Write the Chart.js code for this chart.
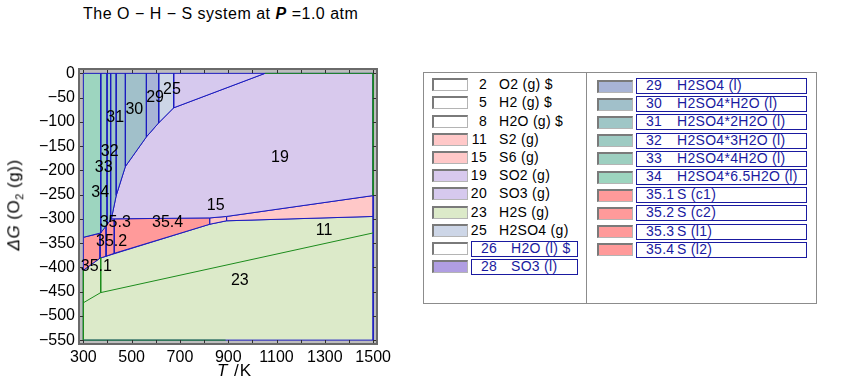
<!DOCTYPE html>
<html>
<head>
<meta charset="utf-8">
<script src="https://cdn.jsdelivr.net/npm/chart.js@4/dist/chart.umd.min.js"></script>
<style>
  body { margin: 0; width: 844px; height: 391px; background: #fff; position: relative; overflow: hidden;
         font-family: "Liberation Sans", Arial, sans-serif; color: #000; }
  #wrap { position: absolute; left: 0; top: 0; width: 400px; height: 391px; }
  #title { position: absolute; left: 83px; top: 5px; font-size: 16px; letter-spacing: 0.5px; white-space: nowrap; }
  #xtitle { position: absolute; left: 217px; top: 361px; font-size: 17px; letter-spacing: 1px; white-space: nowrap; }
  #ytitle { position: absolute; left: 15px; top: 205px; font-size: 17px; letter-spacing: 0.5px; white-space: nowrap;
            transform: translate(-50%, -50%) rotate(-90deg); }
  #legend { position: absolute; left: 423px; top: 72px; width: 392px; height: 230px; border: 1px solid #8c8c8c; background: #fff; }
  #legend .div { position: absolute; left: 162px; top: 0; width: 1px; height: 230px; background: #8c8c8c; }
  .sw { position: absolute; width: 33px; height: 10px; border-style: solid; border-width: 2px 1px 1px 2px;
        border-color: #7a7a7a #b4b4b4 #b4b4b4 #7a7a7a; }
  .num { position: absolute; font-size: 14px; line-height: 15px; text-align: right; width: 30px; letter-spacing: 0.3px; }
  .nm { position: absolute; font-size: 14px; line-height: 15px; white-space: nowrap; letter-spacing: 0.3px; }
  .box { position: absolute; height: 14px; border: 1px solid #1a1aa0; color: #1a1aa0; }
  .box span { position: absolute; top: -1px; font-size: 14px; line-height: 15px; white-space: nowrap; letter-spacing: 0.3px; }
</style>
</head>
<body>
<div id="title">The O − H − S system at <b><i>P</i></b> =1.0 atm</div>
<div id="wrap"><canvas id="chart"></canvas></div>
<div id="xtitle"><i>T</i> /K</div>
<div id="ytitle"><i>ΔG</i> (O<sub style="font-size:11px">2</sub> (g))</div>
<div id="legend"><div class="div"></div></div>
<script>
// axes
const T_TICKS = [300, 400, 500, 600, 700, 800, 900, 1000, 1100, 1200, 1300, 1400, 1500];
const T_LABELED = [300, 500, 700, 900, 1100, 1300, 1500];
const G_TICKS = [0, -50, -100, -150, -200, -250, -300, -350, -400, -450, -500, -550];

// predominance areas, vertices as [T (K), dG (kJ)]
const area34 = [[300, 0], [372, 0], [372, -329], [300, -338]];
const area33 = [[372, 0], [398, 0], [398, -312], [372, -329]];
const area32 = [[398, 0], [413, 0], [413, -302], [398, -312]];
const area31 = [[413, 0], [436, 0], [436, -252], [416, -300], [413, -302]];
const area30 = [[436, 0], [474, 0], [474, -192], [436, -252]];
const area30b = [[474, 0], [561, 0], [561, -131], [474, -192]];
const area29 = [[561, 0], [612, 0], [612, -102], [561, -131]];
const area25 = [[612, 0], [674, 0], [674, -71], [612, -102]];
const area20 = [[674, 0], [1052, 0], [674, -71]];
const area19 = [[1052, 0], [1500, 0], [1500, -252], [893, -295], [824, -298], [416, -300],
                [436, -252], [474, -192], [561, -131], [612, -102], [674, -71]];
const area15 = [[824, -298], [893, -295], [893, -304], [824, -311]];
const area11 = [[893, -295], [1500, -252], [1500, -295], [893, -304]];
const area351 = [[300, -338], [369, -330], [369, -381], [300, -406]];
const area352 = [[369, -330], [394, -314], [394, -377], [369, -381]];
const area353 = [[394, -314], [416, -300], [428, -300], [428, -371], [394, -377]];
const area354 = [[428, -300], [824, -298], [824, -311], [428, -371]];
const area23 = [[300, -406], [369, -381], [824, -311], [893, -304], [1500, -295], [1500, -550], [300, -550]];

// extra boundary lines
const lineH2S = [[300, -473], [372, -452], [1500, -329]];
const lineH2Sv = [[372, -380], [372, -452]];
const edgeTopRight = [[1052, 0], [1500, 0], [1500, -252]];
const edgeLeftBottom = [[300, -406], [300, -550], [889, -550]];

// area labels
const labelText = ['34', '33', '32', '31', '30', '29', '25', '19', '15', '11', '23', '35.1', '35.2', '35.3', '35.4'];
const labelT = [370, 384, 409, 432, 511, 597, 667, 1114, 848, 1297, 948, 354, 417, 432, 649];
const labelG = [-245, -195, -161, -92, -75, -50, -33, -174, -273, -324, -428, -398, -347, -308, -308];

// legend
const legLeftId = ['2', '5', '8', '11', '15', '19', '20', '23', '25', '26', '28'];
const legLeftName = ['O2 (g)  $', 'H2 (g)  $', 'H2O (g)  $', 'S2 (g)', 'S6 (g)', 'SO2 (g)', 'SO3 (g)', 'H2S (g)', 'H2SO4 (g)', 'H2O (l)  $', 'SO3 (l)'];
const legLeftBoxed = [false, false, false, false, false, false, false, false, false, true, true];
const legRightId = ['29', '30', '31', '32', '33', '34', '35.1', '35.2', '35.3', '35.4'];
const legRightName = ['H2SO4 (l)', 'H2SO4*H2O (l)', 'H2SO4*2H2O (l)', 'H2SO4*3H2O (l)', 'H2SO4*4H2O (l)', 'H2SO4*6.5H2O (l)', 'S (c1)', 'S (c2)', 'S (l1)', 'S (l2)'];

const colors = {
  '2': '#ffffff', '5': '#ffffff', '8': '#ffffff', '26': '#ffffff',
  '11': '#ffc8c8', '15': '#ffc8c8', '19': '#d8c9ed', '20': '#d6c9ee', '23': '#dceac9',
  '25': '#cdd6e7', '28': '#b09ee2', '29': '#a8b4d6', '30': '#a1c0ca', '31': '#9fc6c6',
  '32': '#9ecbc3', '33': '#9dcfc0', '34': '#9dd5bf',
  '35.1': '#ff9a9a', '35.2': '#ff9a9a', '35.3': '#ff9a9a', '35.4': '#ff9a9a'
};
const BLUE = '#1c1cc0';
const GREEN = '#1c8c1c';

const areas = [
  ['34', area34], ['33', area33], ['32', area32], ['31', area31], ['30', area30], ['30', area30b],
  ['29', area29], ['25', area25], ['20', area20], ['19', area19], ['15', area15], ['11', area11],
  ['35.1', area351], ['35.2', area352], ['35.3', area353], ['35.4', area354], ['23', area23]
];

const toXY = pts => pts.map(p => ({ x: p[0], y: p[1] }));

// Chart.js draws the first dataset on top, so the loose lines go first
const datasets = [];
[lineH2S, lineH2Sv, edgeTopRight, edgeLeftBottom].forEach(pts => {
  datasets.push({ data: toXY(pts), showLine: true, fill: false, borderColor: GREEN, borderWidth: 1, pointRadius: 0, tension: 0 });
});
areas.forEach(([id, pts]) => {
  datasets.push({
    label: id,
    data: toXY(pts.concat([pts[0]])),
    showLine: true,
    fill: 'shape',
    backgroundColor: colors[id],
    borderColor: BLUE,
    borderWidth: 1,
    pointRadius: 0,
    tension: 0
  });
});

// gray plot background, frame, inward ticks, area labels
const framePlugin = {
  id: 'frame',
  beforeDatasetsDraw(chart) {
    const { ctx, chartArea: a } = chart;
    ctx.save();
    ctx.fillStyle = '#bdbdbd';
    ctx.fillRect(a.left, a.top, a.right - a.left, a.bottom - a.top);
    ctx.restore();
  },
  afterDatasetsDraw(chart) {
    const { ctx, chartArea: a, scales } = chart;
    ctx.save();
    ctx.fillStyle = '#000';
    ctx.font = '16px "Liberation Sans", Arial, sans-serif';
    ctx.textAlign = 'center';
    ctx.textBaseline = 'middle';
    labelText.forEach((t, i) => {
      ctx.fillText(t, scales.x.getPixelForValue(labelT[i]), scales.y.getPixelForValue(labelG[i]));
    });
    ctx.strokeStyle = '#303030';
    ctx.lineWidth = 1;
    ctx.beginPath();
    T_TICKS.forEach(v => {
      const x = Math.round(scales.x.getPixelForValue(v)) + 0.5;
      ctx.moveTo(x, a.bottom); ctx.lineTo(x, a.bottom - 4);
      ctx.moveTo(x, a.top); ctx.lineTo(x, a.top + 4);
    });
    G_TICKS.forEach(v => {
      const y = Math.round(scales.y.getPixelForValue(v)) + 0.5;
      ctx.moveTo(a.left, y); ctx.lineTo(a.left + 4, y);
      ctx.moveTo(a.right, y); ctx.lineTo(a.right - 4, y);
    });
    ctx.stroke();
    ctx.strokeStyle = '#6a6a6a';
    ctx.lineWidth = 2;
    ctx.strokeRect(a.left, a.top, a.right - a.left, a.bottom - a.top);
    ctx.restore();
  }
};

new Chart(document.getElementById('chart'), {
  type: 'scatter',
  data: { datasets },
  options: {
    responsive: true,
    maintainAspectRatio: false,
    animation: false,
    layout: { padding: { left: 0, top: 69, right: 23, bottom: 17 } },
    plugins: { legend: { display: false }, tooltip: { enabled: false }, title: { display: false } },
    scales: {
      x: {
        type: 'linear', min: 282, max: 1516,
        afterBuildTicks: s => { s.ticks = T_TICKS.map(v => ({ value: v })); },
        afterFit: s => { s.height = 30; },
        grid: { display: false, drawTicks: false },
        border: { display: false },
        ticks: {
          autoSkip: false, maxRotation: 0, padding: 4, color: '#000',
          font: { size: 16, family: '"Liberation Sans", Arial, sans-serif' },
          callback: v => T_LABELED.includes(v) ? String(v) : ''
        }
      },
      y: {
        type: 'linear', min: -558, max: 9,
        afterBuildTicks: s => { s.ticks = G_TICKS.map(v => ({ value: v })); },
        afterFit: s => { s.width = 79; },
        grid: { display: false, drawTicks: false },
        border: { display: false },
        ticks: {
          autoSkip: false, padding: 4, color: '#000',
          font: { size: 16, family: '"Liberation Sans", Arial, sans-serif' },
          callback: v => v === 0 ? '0' : '\u2212' + Math.abs(v)
        }
      }
    }
  },
  plugins: [framePlugin]
});

// HTML legend
const legend = document.getElementById('legend');
function addRow(col, i, id, name, boxed) {
  const top = (col === 0 ? 84.7 : 86) + 18.2 * i - 72 - 1;
  const sx = col === 0 ? 8 : 173;
  const sw = document.createElement('div');
  sw.className = 'sw';
  sw.style.left = sx + 'px';
  sw.style.top = (top - 6.5) + 'px';
  sw.style.background = colors[id];
  legend.appendChild(sw);
  if (boxed) {
    const bx = document.createElement('div');
    bx.className = 'box';
    const bl = col === 0 ? 47 : 212;
    bx.style.left = bl + 'px';
    bx.style.width = (col === 0 ? 105 : 169) + 'px';
    bx.style.top = (top - 8) + 'px';
    bx.innerHTML = '<span style="left:9px">' + id + '</span><span style="left:' + (col === 0 ? 39 : 40) + 'px">' + name + '</span>';
    legend.appendChild(bx);
  } else {
    const n = document.createElement('div');
    n.className = 'num';
    n.style.left = (63 - 30) + 'px';
    n.style.top = (top - 7.5) + 'px';
    n.textContent = id;
    legend.appendChild(n);
    const t = document.createElement('div');
    t.className = 'nm';
    t.style.left = '75px';
    t.style.top = (top - 7.5) + 'px';
    t.textContent = name;
    legend.appendChild(t);
  }
}
legLeftId.forEach((id, i) => addRow(0, i, id, legLeftName[i], legLeftBoxed[i]));
legRightId.forEach((id, i) => addRow(1, i, id, legRightName[i], true));
</script>
</body>
</html>
